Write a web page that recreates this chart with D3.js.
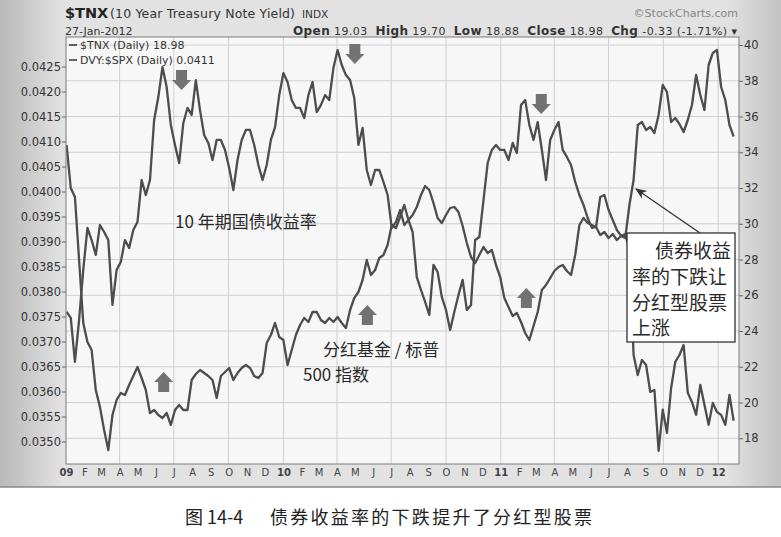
<!DOCTYPE html>
<html>
<head>
<meta charset="utf-8">
<script src="https://cdnjs.cloudflare.com/ajax/libs/d3/7.8.5/d3.min.js"></script>
<style>
  body { margin: 0; background: #fff; }
  svg { display: block; font-family: "DejaVu Sans", Verdana, sans-serif; }
</style>
</head>
<body>
<div id="app"></div>
<script>
// weekly closes (Fridays) from 2009-01-02 to 2012-01-27
const tnx = [
  25.07, 24.73, 22.27, 24.62, 27.42, 29.77, 29.09, 28.26, 29.93, 29.54,
  29.09, 25.46, 27.42, 27.86, 29.09, 28.65, 29.65, 30.10, 32.45, 31.61,
  32.45, 35.81, 37.09, 38.77, 37.65, 35.53, 34.41, 33.40, 35.64, 36.48,
  36.09, 38.04, 36.36, 34.97, 34.52, 33.57, 34.69, 34.69, 34.13, 33.12,
  31.89, 33.57, 34.69, 35.25, 35.25, 34.41, 33.29, 32.45, 33.29, 34.69,
  35.41, 37.20, 38.43, 37.93, 36.92, 36.48, 36.48, 35.92, 37.20, 37.93,
  36.25, 36.64, 37.20, 36.92, 38.71, 39.72, 38.88, 38.32, 38.04, 37.04,
  34.41, 35.36, 33.01, 32.17, 33.01, 33.01, 32.34, 31.61, 29.77, 30.10,
  30.77, 29.93, 30.21, 29.54, 27.02, 26.30, 25.63, 24.90, 27.70, 27.30,
  25.91, 25.18, 24.06, 25.07, 26.02, 26.86, 25.18, 25.46, 29.09, 29.26,
  31.33, 33.40, 34.13, 34.41, 34.13, 34.13, 33.57, 34.52, 33.96, 36.64,
  36.92, 35.53, 34.69, 35.69, 34.13, 32.45, 34.69, 35.25, 35.69, 34.13,
  33.74, 33.29, 32.34, 31.61, 31.05, 30.32, 29.77, 29.82, 31.50, 31.61,
  30.77, 30.21, 29.65, 29.32, 29.43, 28.53, 22.66, 21.54, 22.38, 22.10,
  20.59, 20.70, 17.30, 19.60, 18.30, 20.80, 22.27, 22.66, 23.22, 20.54,
  20.03, 19.31, 20.98, 19.87, 18.75, 19.98, 19.47, 19.31, 18.75, 20.43,
  18.98
];
const dvy = [
  0.04093, 0.04007, 0.03989, 0.03863, 0.03737, 0.03699, 0.03683, 0.03603, 0.03569, 0.03523,
  0.03483, 0.03553, 0.03583, 0.03597, 0.03593, 0.03613, 0.03631, 0.03649, 0.03627, 0.03603,
  0.03557, 0.03563, 0.03553, 0.03547, 0.03557, 0.03533, 0.03563, 0.03573, 0.03563, 0.03563,
  0.03623, 0.03635, 0.03643, 0.03637, 0.03631, 0.03623, 0.03587, 0.03631, 0.03639, 0.03647,
  0.03623, 0.03637, 0.03647, 0.03653, 0.03647, 0.03631, 0.03627, 0.03637, 0.03697, 0.03713,
  0.03737, 0.03709, 0.03703, 0.03653, 0.03683, 0.03713, 0.03733, 0.03747, 0.03739, 0.03759,
  0.03759, 0.03743, 0.03737, 0.03747, 0.03739, 0.03749, 0.03737, 0.03727, 0.03763, 0.03787,
  0.03799, 0.03823, 0.03863, 0.03833, 0.03843, 0.03867, 0.03873, 0.03893, 0.03933, 0.03927,
  0.03949, 0.03973, 0.03943, 0.03953, 0.03969, 0.03993, 0.04011, 0.04003, 0.03977, 0.03947,
  0.03937, 0.03953, 0.03967, 0.03969, 0.03959, 0.03931, 0.03897, 0.03869, 0.03857, 0.03873,
  0.03889, 0.03877, 0.03883, 0.03853, 0.03829, 0.03787, 0.03769, 0.03751, 0.03757, 0.03739,
  0.03717, 0.03703, 0.03731, 0.03759, 0.03803, 0.03813, 0.03827, 0.03841, 0.03849, 0.03853,
  0.03841, 0.03833, 0.03873, 0.03933, 0.03947, 0.03937, 0.03933, 0.03929, 0.03913, 0.03919,
  0.03907, 0.03915, 0.03903, 0.03911, 0.03907, 0.03973, 0.04023, 0.04133, 0.04139, 0.04123,
  0.04129, 0.04117, 0.04153, 0.04213, 0.04199, 0.04139, 0.04147, 0.04135, 0.04119, 0.04143,
  0.04173, 0.04233, 0.04193, 0.04163, 0.04253, 0.04277, 0.04283, 0.04209, 0.04183, 0.04133,
  0.0411
];
const dates = d3.timeFriday.range(new Date(2009, 0, 2), new Date(2012, 0, 28));

const leftTicks = [0.0350, 0.0355, 0.0360, 0.0365, 0.0370, 0.0375, 0.0380, 0.0385,
                   0.0390, 0.0395, 0.0400, 0.0405, 0.0410, 0.0415, 0.0420, 0.0425];
const rightTicks = [18, 20, 22, 24, 26, 28, 30, 32, 34, 36, 38, 40];
const monthLetters = ["", "F", "M", "A", "M", "J", "J", "A", "S", "O", "N", "D"];

// thick arrows: [date, DVY-scale value]
const downArrows = [["2009-07-14", 0.04223], ["2010-05-01", 0.04275], ["2011-03-10", 0.04175]];
const upArrows = [["2009-06-14", 0.03619], ["2010-05-22", 0.03753], ["2011-02-13", 0.03787]];

const infoLine = [["Open", true], [" 19.03  ", false], ["High", true], [" 19.70  ", false],
                  ["Low", true], [" 18.88  ", false], ["Close", true], [" 18.98  ", false],
                  ["Chg", true], [" -0.33 (-1.71%) \u25BE", false]];

const w = 781, h = 537;
const plot = { l: 66, r: 739, t: 37, b: 464 };
const panelH = 487;
const lineColor = "#4d4d4d";

const svg = d3.select("#app")
  .append("svg")
  .attr("width", w)
  .attr("height", h);

const defs = svg.append("defs");
const grad = defs.append("linearGradient")
  .attr("id", "panel")
  .attr("x1", 0).attr("x2", 1).attr("y1", 0).attr("y2", 0);
[[0, "#b8b8b8"], [0.08, "#e2e2e2"], [0.93, "#e2e2e2"], [1, "#c3c3c3"]]
  .forEach(([o, c]) => grad.append("stop").attr("offset", o).attr("stop-color", c));

defs.append("marker")
  .attr("id", "head")
  .attr("viewBox", "0 0 10 10")
  .attr("refX", 9).attr("refY", 5)
  .attr("markerWidth", 9).attr("markerHeight", 9)
  .attr("orient", "auto")
  .append("path")
  .attr("d", "M0,1L10,5L0,9L3,5Z")
  .attr("fill", "#333");

// panel background
svg.append("rect")
  .attr("width", w).attr("height", panelH)
  .attr("fill", "url(#panel)");
svg.append("line")
  .attr("x1", 0).attr("x2", w).attr("y1", panelH).attr("y2", panelH)
  .attr("stroke", "#8a8a8a").attr("stroke-width", 1.5);

svg.append("rect")
  .attr("x", plot.l).attr("y", plot.t)
  .attr("width", plot.r - plot.l).attr("height", plot.b - plot.t)
  .attr("fill", "#f7f7f7");

const x = d3.scaleTime()
  .domain([new Date(2009, 0, 1), new Date(2012, 1, 5)])
  .range([plot.l, plot.r]);
const yL = d3.scaleLinear()
  .domain([0.03455, 0.04309])
  .range([plot.b, plot.t]);
const yR = d3.scaleLinear()
  .domain([16.56, 40.45])
  .range([plot.b, plot.t]);

// grid
const quarters = d3.timeMonth.every(3).range(new Date(2009, 3, 1), new Date(2012, 1, 1));
svg.append("g")
  .selectAll("line")
  .data(quarters)
  .join("line")
  .attr("x1", d => x(d)).attr("x2", d => x(d))
  .attr("y1", plot.t).attr("y2", plot.b)
  .attr("stroke", "#cfcfcf").attr("stroke-width", 1);
svg.append("g")
  .selectAll("line")
  .data(rightTicks)
  .join("line")
  .attr("x1", plot.l).attr("x2", plot.r)
  .attr("y1", d => yR(d)).attr("y2", d => yR(d))
  .attr("stroke", "#cfcfcf").attr("stroke-width", 1);

// axes
const leftAxis = svg.append("g")
  .attr("transform", `translate(${plot.l},0)`)
  .call(d3.axisLeft(yL).tickValues(leftTicks).tickFormat(d3.format(".4f")).tickSize(4).tickPadding(1));
const rightAxis = svg.append("g")
  .attr("transform", `translate(${plot.r},0)`)
  .call(d3.axisRight(yR).tickValues(rightTicks).tickSize(4).tickPadding(1));
[leftAxis, rightAxis].forEach(g => {
  g.select(".domain").remove();
  g.selectAll(".tick line").attr("stroke", "#666");
  g.selectAll(".tick text")
    .attr("fill", "#333")
    .attr("font-size", "11.5px")
    .attr("font-family", "DejaVu Sans, sans-serif");
});

const months = d3.timeMonth.range(new Date(2009, 0, 1), new Date(2012, 0, 2));
const bottomAxis = svg.append("g")
  .attr("transform", `translate(0,${plot.b})`)
  .call(d3.axisBottom(x)
    .tickValues(months)
    .tickFormat(d => d.getMonth() === 0 ? d3.timeFormat("%y")(d) : monthLetters[d.getMonth()])
    .tickSize(0)
    .tickPadding(5));
bottomAxis.select(".domain").remove();
bottomAxis.selectAll(".tick text")
  .attr("fill", "#444")
  .attr("font-size", "10px")
  .attr("font-family", "DejaVu Sans, sans-serif")
  .attr("font-weight", d => d.getMonth() === 0 ? "bold" : "normal");

// series
defs.append("clipPath").attr("id", "clip")
  .append("rect")
  .attr("x", plot.l).attr("y", plot.t)
  .attr("width", plot.r - plot.l).attr("height", plot.b - plot.t);

const tnxLine = d3.line().x((d, i) => x(dates[i])).y(d => yR(d));
const dvyLine = d3.line().x((d, i) => x(dates[i])).y(d => yL(d));

const series = svg.append("g").attr("clip-path", "url(#clip)");
series.append("path")
  .datum(tnx)
  .attr("d", tnxLine)
  .attr("fill", "none")
  .attr("stroke", lineColor)
  .attr("stroke-width", 2.3)
  .attr("stroke-linejoin", "round");
series.append("path")
  .datum(dvy)
  .attr("d", dvyLine)
  .attr("fill", "none")
  .attr("stroke", lineColor)
  .attr("stroke-width", 2.3)
  .attr("stroke-linejoin", "round");

svg.append("rect")
  .attr("x", plot.l).attr("y", plot.t)
  .attr("width", plot.r - plot.l).attr("height", plot.b - plot.t)
  .attr("fill", "none")
  .attr("stroke", "#7a7a7a").attr("stroke-width", 1);

// thick arrows
const parse = d3.timeParse("%Y-%m-%d");
svg.append("g")
  .selectAll("path")
  .data(downArrows)
  .join("path")
  .attr("transform", d => `translate(${x(parse(d[0]))},${yL(d[1])})`)
  .attr("d", "M-5.5,-10H5.5V0H9.5L0,10L-9.5,0H-5.5Z")
  .attr("fill", "#727272");
svg.append("g")
  .selectAll("path")
  .data(upArrows)
  .join("path")
  .attr("transform", d => `translate(${x(parse(d[0]))},${yL(d[1])})`)
  .attr("d", "M-5.5,10H5.5V0H9.5L0,-10L-9.5,0H-5.5Z")
  .attr("fill", "#727272");

// chinese annotations
const cjk = "'Noto Sans CJK SC', sans-serif";
const note = (tx, ty, str, size) => svg.append("text")
  .attr("x", tx).attr("y", ty)
  .attr("font-family", cjk)
  .attr("font-size", size + "px")
  .attr("fill", "#2a2a2a")
  .text(str);
note(175, 228, "10 年期国债收益率", 17);
note(323, 356, "分红基金 / 标普", 17);
note(303, 381, "500 指数", 17);

svg.append("line")
  .attr("x1", 700).attr("y1", 233)
  .attr("x2", 636).attr("y2", 189)
  .attr("stroke", "#333").attr("stroke-width", 1.3)
  .attr("marker-end", "url(#head)");
svg.append("rect")
  .attr("x", 627).attr("y", 233).attr("width", 108).attr("height", 109)
  .attr("fill", "#fff")
  .attr("stroke", "#333").attr("stroke-width", 1.3);
note(655, 258, "债券收益", 19);
note(632, 284, "率的下跌让", 19);
note(632, 310, "分红型股票", 19);
note(632, 335, "上涨", 19);

// legend
const legend = svg.append("g").attr("font-size", "11px").attr("fill", "#333");
[["$TNX (Daily) 18.98", 49], ["DVY:$SPX (Daily) 0.0411", 64]].forEach(([t, yy]) => {
  legend.append("line")
    .attr("x1", 69).attr("x2", 77).attr("y1", yy - 4).attr("y2", yy - 4)
    .attr("stroke", "#333").attr("stroke-width", 1.5);
  legend.append("text").attr("x", 80).attr("y", yy).text(t);
});

// header
svg.append("text")
  .attr("x", 65).attr("y", 18)
  .attr("font-size", "14.5px").attr("font-weight", "bold").attr("fill", "#222")
  .text("$TNX");
svg.append("text")
  .attr("x", 110).attr("y", 18)
  .attr("font-size", "12.5px").attr("fill", "#333")
  .attr("textLength", 185).attr("lengthAdjust", "spacing")
  .text("(10 Year Treasury Note Yield)");
svg.append("text")
  .attr("x", 302).attr("y", 18)
  .attr("font-size", "10.5px").attr("fill", "#333")
  .text("INDX");
svg.append("text")
  .attr("x", 65).attr("y", 35)
  .attr("font-size", "11px").attr("fill", "#333")
  .text("27-Jan-2012");
svg.append("text")
  .attr("x", 738).attr("y", 17)
  .attr("text-anchor", "end")
  .attr("font-size", "11px").attr("fill", "#858585")
  .text("\u00A9StockCharts.com");

const info = svg.append("text")
  .attr("x", 293).attr("y", 35)
  .attr("textLength", 444)
  .attr("lengthAdjust", "spacing")
  .attr("fill", "#333");
infoLine.forEach(([t, b]) => {
  info.append("tspan")
    .attr("font-weight", b ? "bold" : "normal")
    .attr("font-size", b ? "12px" : "11px")
    .attr("xml:space", "preserve")
    .text(t);
});

// caption
svg.append("text")
  .attr("x", 185).attr("y", 524)
  .attr("font-family", cjk).attr("font-size", "18px").attr("fill", "#222")
  .text("图 14-4");
svg.append("text")
  .attr("x", 270).attr("y", 524)
  .attr("font-family", cjk).attr("font-size", "18px").attr("fill", "#222")
  .attr("textLength", 322).attr("lengthAdjust", "spacing")
  .text("债券收益率的下跌提升了分红型股票");
</script>
</body>
</html>
